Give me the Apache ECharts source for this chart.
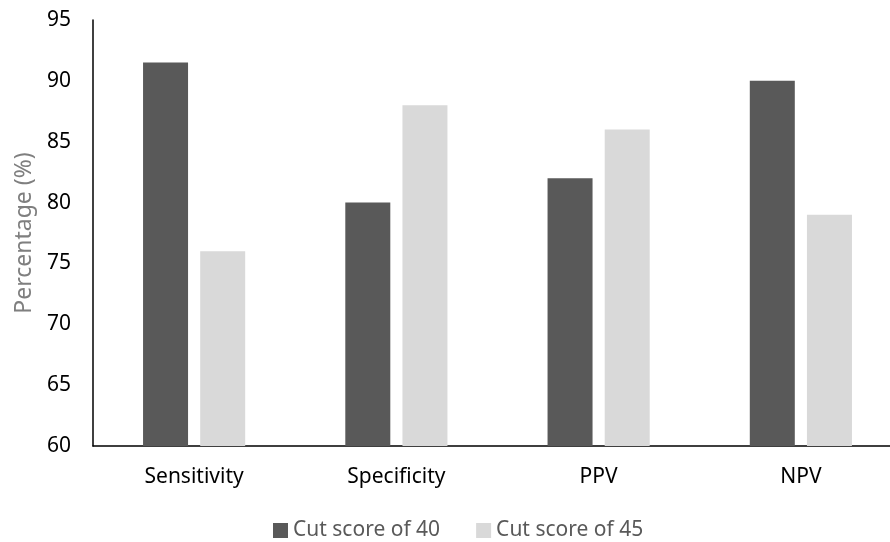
<!DOCTYPE html>
<html>
<head>
<meta charset="utf-8">
<title>Cut score comparison</title>
<script src="https://cdn.jsdelivr.net/npm/echarts@6/dist/echarts.min.js"></script>
<style>
  html, body { margin: 0; padding: 0; background: #fff; }
  #chart { width: 890px; height: 542px; }
</style>
</head>
<body>
<div id="chart"></div>
<script>
// data
const categories = ['Sensitivity', 'Specificity', 'PPV', 'NPV'];
const cut40 = [91.5, 80, 82, 90];
const cut45 = [76, 88, 86, 79];
const seriesNames = ['Cut score of 40', 'Cut score of 45'];

const font = 'Noto Sans';

const chart = echarts.init(document.getElementById('chart'));

const options = {
  animation: false,
  textStyle: { fontFamily: font },
  legend: {
    data: seriesNames,
    top: 515,
    left: 268,
    icon: 'rect',
    itemWidth: 15,
    itemHeight: 15,
    itemGap: 36,
    textStyle: { fontSize: 21, color: '#595959', fontFamily: font }
  },
  grid: {
    left: 93,
    top: 20,
    right: -12,
    bottom: 96,
    outerBoundsMode: 'none',
    containLabel: false
  },
  xAxis: {
    type: 'category',
    data: categories,
    axisLine: { lineStyle: { color: '#000', width: 1.5 } },
    axisTick: { show: false },
    axisLabel: { fontSize: 21, color: '#000', margin: 21, fontFamily: font }
  },
  yAxis: {
    type: 'value',
    min: 60,
    max: 95,
    interval: 5,
    name: 'Percentage (%)',
    nameLocation: 'middle',
    nameGap: 57,
    nameTextStyle: { fontSize: 23, color: '#7f7f7f', fontFamily: font },
    axisLine: { show: true, lineStyle: { color: '#000', width: 1.5 } },
    axisTick: { show: false },
    splitLine: { show: false },
    axisLabel: { fontSize: 21, color: '#000', margin: 22, fontFamily: font }
  },
  series: [
    {
      name: seriesNames[0],
      type: 'bar',
      data: cut40,
      barWidth: 45,
      barGap: '27%',
      itemStyle: { color: '#595959' }
    },
    {
      name: seriesNames[1],
      type: 'bar',
      data: cut45,
      barWidth: 45,
      itemStyle: { color: '#d9d9d9' }
    }
  ]
};

chart.setOption(options);

window.addEventListener('resize', () => {
  chart.resize();
});
</script>
</body>
</html>
